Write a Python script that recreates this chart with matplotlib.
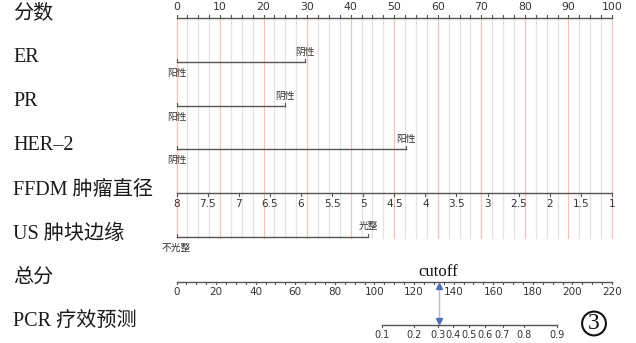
import matplotlib.pyplot as plt

# left-hand row names
row_labels = ["分数", "ER", "PR", "HER–2", "FFDM 肿瘤直径", "US 肿块边缘", "总分", "PCR 疗效预测"]

# points scale
points_ticks = list(range(0, 101, 10))

# categorical predictors: level names and their points
er_levels = ["阳性", "阴性"]
er_points = [0, 29.5]
pr_levels = ["阳性", "阴性"]
pr_points = [0, 24.9]
her2_levels = ["阴性", "阳性"]
her2_points = [0, 52.7]
us_levels = ["不光整", "光整"]
us_points = [0, 44.0]

# continuous predictor (tumour diameter), 8 -> 0 points, 1 -> 100 points
ffdm_ticks = [8, 7.5, 7, 6.5, 6, 5.5, 5, 4.5, 4, 3.5, 3, 2.5, 2, 1.5, 1]
ffdm_max, ffdm_min = 8, 1

# total points scale
total_ticks = list(range(0, 221, 20))
total_max = 220

# predicted probability ticks and where they sit on the total points scale
pcr_probs = [0.1, 0.2, 0.3, 0.4, 0.5, 0.6, 0.7, 0.8, 0.9]
pcr_total = [103.9, 120.2, 132.0, 139.8, 147.8, 155.9, 164.7, 175.5, 192.2]
cutoff_total = 132.4

# layout (pixel rows from the top)
W, H = 636, 343
X0, X100 = 176.5, 612.0
label_y = [13.5, 58, 102, 145.7, 190.7, 234, 278, 322]
line_y = [18, 62, 106, 149.3, 192.7, 236.7, 281.7, 324.5]

AX = "#555555"
TXT = "#333333"
CJK = ["Noto Sans CJK SC", "DejaVu Sans"]
SERIF = ["Liberation Serif", "Noto Sans CJK SC"]

fig = plt.figure(figsize=(W / 100, H / 100), dpi=100)
ax = fig.add_axes([0, 0, 1, 1])
scale = (X100 - X0) / 100.0
ax.set_xlim(-X0 / scale, (W - X0) / scale)
ax.set_ylim(H, 0)
ax.axis("off")


def tot2pts(t):
    return t * 100.0 / total_max


def ffdm2pts(v):
    return (ffdm_max - v) / (ffdm_max - ffdm_min) * 100.0


# row names
for lab, y in zip(row_labels, label_y):
    ax.text(-X0 / scale + 13 / scale, y, lab, ha="left", va="center",
            fontsize=14.5, family=SERIF, color="#1a1a1a")

# vertical guide lines
p = 0.0
while p <= 100.001:
    red = abs(p / 10 - round(p / 10)) < 1e-6
    ax.plot([p, p], [line_y[0], 238], color="#f5c2bb" if red else "#e2e2e2",
            lw=0.9, zorder=0)
    p += 2.5

# points axis
ax.plot([0, 100], [line_y[0]] * 2, color=AX, lw=1.0)
p = 0.0
while p <= 100.001:
    ax.plot([p, p], [line_y[0], line_y[0] - 3], color=AX, lw=0.8)
    p += 2.5
for t in points_ticks:
    ax.text(t, 7.5, str(t), ha="center", va="center", fontsize=7.8, color=TXT)


def cat_row(y, levels, pts):
    ax.plot(pts, [y, y], color=AX, lw=1.0)
    for v in pts:
        ax.plot([v, v], [y, y - 3], color=AX, lw=0.8)
    # first level below its end, second above
    ax.text(pts[0], y + 11, levels[0], ha="center", va="center",
            fontsize=7, family=CJK, color=TXT)
    ax.text(pts[1], y - 10.5, levels[1], ha="center", va="center",
            fontsize=7, family=CJK, color=TXT)


cat_row(line_y[1], er_levels, er_points)
cat_row(line_y[2], pr_levels, pr_points)
cat_row(line_y[3], her2_levels, her2_points)
cat_row(line_y[5], us_levels, us_points)

# FFDM diameter axis
y = line_y[4]
ax.plot([ffdm2pts(ffdm_ticks[0]), ffdm2pts(ffdm_ticks[-1])], [y, y], color=AX, lw=1.0)
for v in ffdm_ticks:
    x = ffdm2pts(v)
    ax.plot([x, x], [y, y + 3], color=AX, lw=0.8)
    ax.text(x, y + 11, f"{v:g}", ha="center", va="center", fontsize=7.5, color=TXT)

# total points axis
y = line_y[6]
ax.plot([0, tot2pts(total_max)], [y, y], color=AX, lw=1.0)
for t in range(0, total_max + 1, 5):
    ax.plot([tot2pts(t)] * 2, [y, y + 2.5], color=AX, lw=0.8)
for t in total_ticks:
    ax.text(tot2pts(t), y + 10.5, str(t), ha="center", va="center", fontsize=7.5, color=TXT)

# PCR probability axis
y = line_y[7]
ax.plot([tot2pts(pcr_total[0]), tot2pts(pcr_total[-1])], [y, y], color=AX, lw=1.0)
for pr, t in zip(pcr_probs, pcr_total):
    ax.plot([tot2pts(t)] * 2, [y, y + 2.5], color=AX, lw=0.8)
    ax.text(tot2pts(t), y + 10.5, f"{pr:g}", ha="center", va="center",
            fontsize=7, color=TXT)

# cutoff arrow
cx = tot2pts(cutoff_total)
ax.plot([cx, cx], [285, 321], color="#b8bfcc", lw=1.0)
ax.plot([cx], [286], marker="^", ms=4, color="#4a6fb5", mec="#4a6fb5")
ax.plot([cx], [320.5], marker="v", ms=4, color="#4a6fb5", mec="#4a6fb5")
ax.text(cx, 271.5, "cutoff", ha="center", va="center", fontsize=12,
        family=SERIF, color="#111111")

# panel number
ax.text((594 - X0) / scale, 323.5, "3", ha="center", va="center", fontsize=17,
        family=SERIF, color="#111111",
        bbox=dict(boxstyle="circle,pad=0.06", fc="none", ec="#111111", lw=1.5))

fig.savefig("out.png", dpi=100)
